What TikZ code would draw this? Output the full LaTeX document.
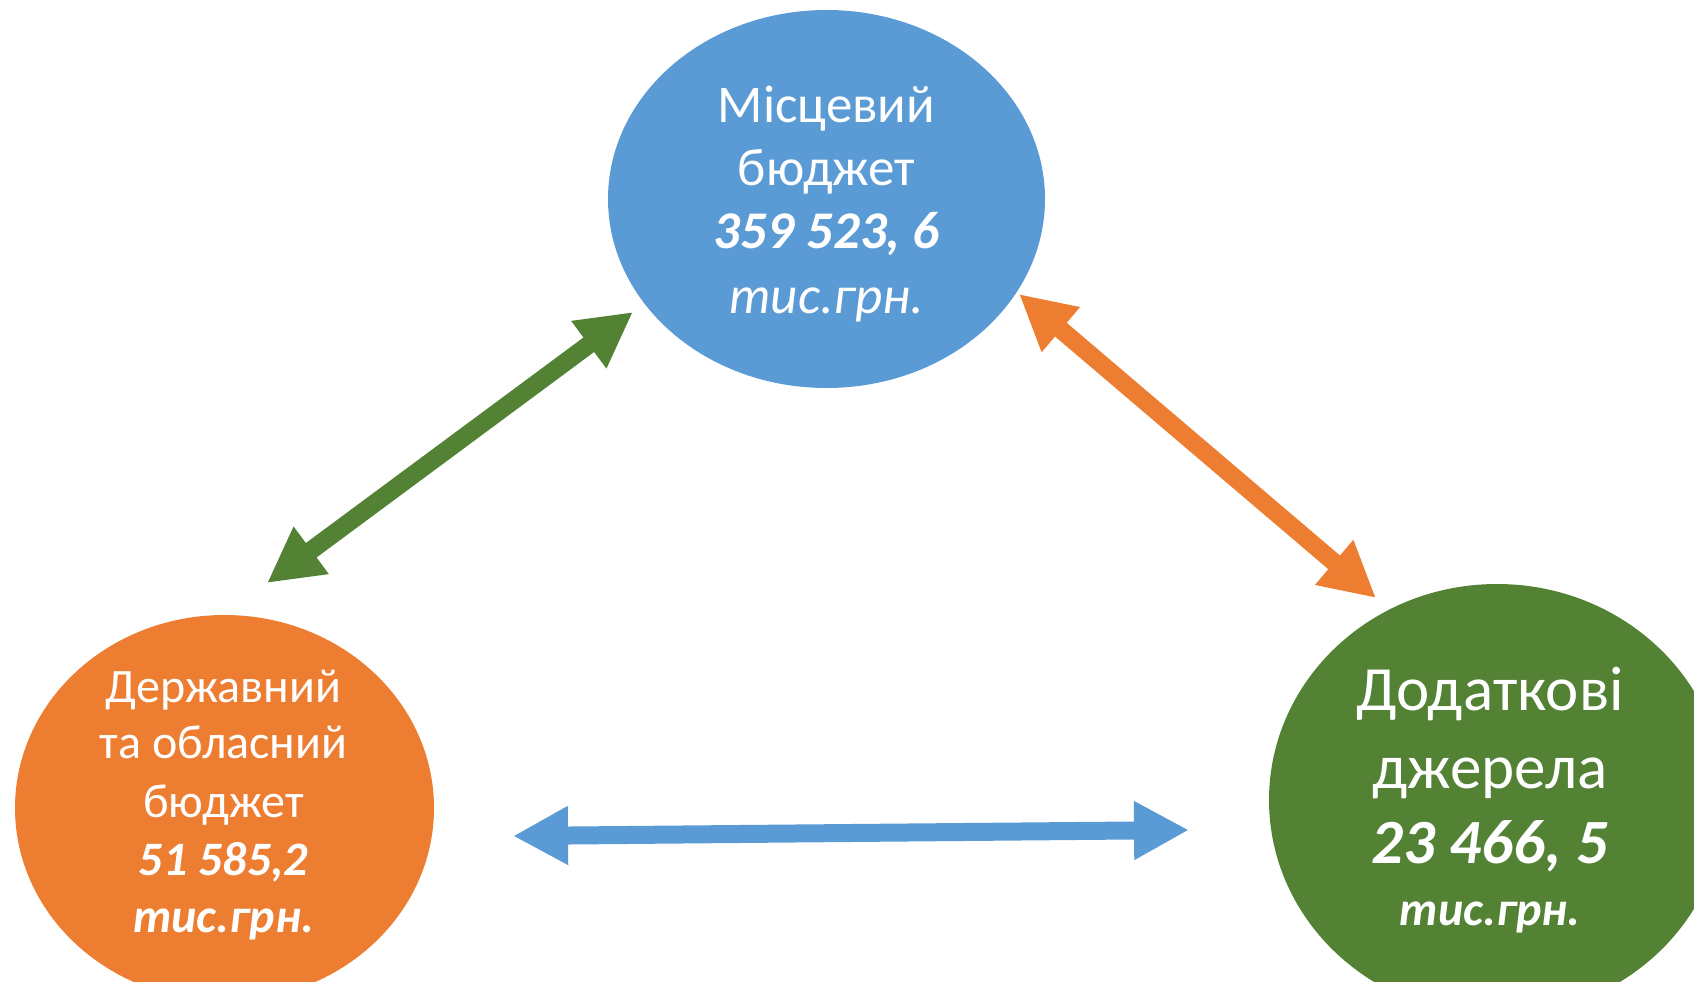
\documentclass[tikz,border=0pt]{standalone}
\usepackage{fontspec}
\setmainfont{Carlito}
\usetikzlibrary{shapes.geometric,arrows.meta}
\definecolor{cblue}{HTML}{5B9BD5}
\definecolor{corange}{HTML}{ED7D31}
\definecolor{cgreen}{HTML}{548235}
\tikzset{
  blob/.style={ellipse, inner sep=0pt, draw=none},
  txt/.style={anchor=base, inner sep=0pt, text=white},
  dblarrow/.style={line width=18pt, {Triangle[length=55pt,width=55pt]}-{Triangle[length=55pt,width=55pt]}}
}
\newcommand{\fsA}{\fontsize{53}{64}\selectfont}
\newcommand{\fsB}{\fontsize{48}{58}\selectfont}
\newcommand{\fsC}{\fontsize{63}{76}\selectfont}
\begin{document}
\begin{tikzpicture}[x=1pt,y=-1pt]
\useasboundingbox (0,0) rectangle (1694,982);
% ellipses
\node[blob, fill=cblue, minimum width=437pt, minimum height=378pt] (local) at (826.5,199) {};
\node[blob, fill=corange, minimum width=419pt, minimum height=386pt] (state) at (224.5,808) {};
\node[blob, fill=cgreen, minimum width=456pt, minimum height=432pt] (extra) at (1497,800) {};
% texts: local budget
\node[txt, font=\fsA] (l1) at (826.5,122) {Місцевий};
\node[txt, font=\fsA] (l2) at (826.5,185) {бюджет};
\node[txt, font=\fsA\bfseries\itshape] (l3) at (826.5,248) {359 523, 6};
\node[txt, font=\fsA\itshape] (l4) at (826.5,313) {тис.грн.};
% texts: state budget
\node[txt, font=\fsB] (s1) at (223.5,702) {Державний};
\node[txt, font=\fsB] (s2) at (223.5,758) {та обласний};
\node[txt, font=\fsB] (s3) at (223.5,817) {бюджет};
\node[txt, font=\fsB\bfseries\itshape] (s4) at (223.5,875) {51 585,2};
\node[txt, font=\fsB\bfseries\itshape] (s5) at (223.5,932) {тис.грн.};
% texts: additional sources
\node[txt, font=\fsC] (e1) at (1490,710) {Додаткові};
\node[txt, font=\fsC] (e2) at (1490,788) {джерела};
\node[txt, font=\fsC\bfseries\itshape] (e3) at (1490,863) {23 466, 5};
\node[txt, font=\fsB\bfseries\itshape] (e4) at (1490,925) {тис.грн.};
% arrow end points
\coordinate (ga) at (267,583);
\coordinate (gb) at (633,312);
\coordinate (oa) at (1019,294);
\coordinate (ob) at (1376,598);
\coordinate (ba) at (513,836);
\coordinate (bb) at (1189,830);
% arrows
\draw[dblarrow, cgreen] (ga) -- (gb);
\draw[dblarrow, corange] (oa) -- (ob);
\draw[dblarrow, cblue] (ba) -- (bb);
\end{tikzpicture}
\end{document}
